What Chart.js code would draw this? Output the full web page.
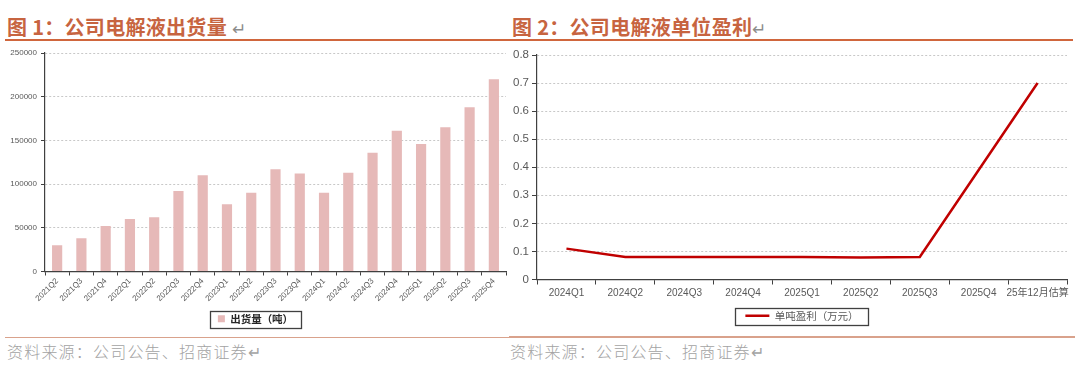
<!DOCTYPE html>
<html>
<head>
<meta charset="utf-8">
<script src="https://cdn.jsdelivr.net/npm/chart.js@4/dist/chart.umd.min.js"></script>
<style>
  body { margin: 0; width: 1080px; height: 377px; background: #fff; position: relative; overflow: hidden;
         font-family: 'Noto Sans CJK SC', sans-serif; }
  .title { position: absolute; top: 15px; font-size: 20px; line-height: 24px; font-weight: bold; color: #c76440; white-space: nowrap; letter-spacing: 0.3px; }
  .title .ret { color: #8c8c8c; font-weight: normal; font-size: 17px; }
  .src { position: absolute; top: 340px; font-size: 16px; line-height: 22px; color: #a3a3a3; letter-spacing: 1.2px; white-space: nowrap; font-weight: 300; }
  .rule { position: absolute; }
  .box { position: absolute; }
</style>
</head>
<body>
<div class="title" style="left:7px">图 1：公司电解液出货量 <span class="ret">↵</span></div>
<div class="title" style="left:512px">图 2：公司电解液单位盈利<span class="ret">↵</span></div>
<div class="rule" style="left:5px; top:39px; width:1068px; height:2px; background:#d0663d"></div>
<div class="rule" style="left:5px; top:337px; width:505px; height:1px; background:#d9a28c"></div>
<div class="rule" style="left:509px; top:336px; width:566px; height:2px; background:#d9a28c"></div>
<div class="src" style="left:7px">资料来源：公司公告、招商证券↵</div>
<div class="src" style="left:510px">资料来源：公司公告、招商证券↵</div>

<div class="box" style="left:0px; top:44px; width:512px; height:292px"><canvas id="volChart"></canvas></div>
<div class="box" style="left:505px; top:44px; width:575px; height:292px"><canvas id="profitChart"></canvas></div>

<script>
// 图1 出货量
const volCats = ['2021Q2', '2021Q3', '2021Q4', '2022Q1', '2022Q2', '2022Q3', '2022Q4', '2023Q1', '2023Q2', '2023Q3',
                 '2023Q4', '2024Q1', '2024Q2', '2024Q3', '2024Q4', '2025Q1', '2025Q2', '2025Q3', '2025Q4'];
const volValues = [30000, 38000, 52000, 60000, 62000, 92000, 110000, 77000, 90000, 117000,
                   112000, 90000, 113000, 136000, 161000, 146000, 165000, 188000, 220000];
const volTicks = [0, 50000, 100000, 150000, 200000, 250000];
const volLabel = '出货量（吨）';

// 图2 单位盈利
const profitCats = ['2024Q1', '2024Q2', '2024Q3', '2024Q4', '2025Q1', '2025Q2', '2025Q3', '2025Q4', '25年12月估算'];
const profitValues = [0.11, 0.08, 0.08, 0.08, 0.08, 0.078, 0.08, 0.39, 0.70];
const profitTicks = [0, 0.1, 0.2, 0.3, 0.4, 0.5, 0.6, 0.7, 0.8];
const profitLabel = '单吨盈利（万元）';

const numFont = "'Liberation Sans', Arial, 'Noto Sans CJK SC', sans-serif";
const axisDark = '#404040';
const tickGray = '#595959';

// legend frame drawn around the single legend item
const legendFrame = {
    id: 'legendFrame',
    afterDraw(chart, args, opts) {
        const hb = chart.legend && chart.legend.legendHitBoxes && chart.legend.legendHitBoxes[0];
        if (!hb) return;
        const ctx = chart.ctx;
        ctx.save();
        ctx.strokeStyle = axisDark;
        ctx.lineWidth = 1.3;
        ctx.strokeRect(Math.round(hb.left - opts.padX) + 0.5, Math.round(hb.top - opts.padY) + 0.5,
                       Math.round(hb.width + opts.padX * 2), Math.round(hb.height + opts.padY * 2));
        ctx.restore();
    }
};

new Chart(document.getElementById('volChart'), {
    type: 'bar',
    data: {
        labels: volCats,
        datasets: [{
            label: volLabel,
            data: volValues,
            backgroundColor: '#e6b9b8',
            barPercentage: 0.42,
            categoryPercentage: 1
        }]
    },
    options: {
        responsive: true,
        maintainAspectRatio: false,
        animation: false,
        layout: { padding: { left: 5, right: 6, top: 9, bottom: 2 } },
        plugins: {
            legend: {
                position: 'bottom',
                labels: {
                    boxWidth: 7, boxHeight: 7, padding: 6,
                    color: '#262626',
                    font: { family: "'Noto Sans CJK SC', sans-serif", size: 10.5, weight: 'bold' }
                }
            },
            tooltip: { enabled: false },
            legendFrame: { padX: 8, padY: 3 }
        },
        scales: {
            x: {
                offset: true,
                grid: { display: true, offset: true, drawOnChartArea: false, drawTicks: true, tickLength: 4, tickColor: axisDark },
                border: { display: true, color: axisDark, width: 1.2 },
                ticks: { color: tickGray, font: { family: numFont, size: 8 }, minRotation: 45, maxRotation: 45, padding: 1, autoSkip: false },
                afterFit(scale) { scale.height = 36; }
            },
            y: {
                min: 0, max: 250000,
                afterBuildTicks(scale) { scale.ticks = volTicks.map(v => ({ value: v })); },
                grid: { color: '#c8c8c8', lineWidth: 1, tickLength: 4, tickColor: axisDark },
                border: { display: true, color: axisDark, width: 1.2, dash: [2, 2] },
                ticks: { color: tickGray, font: { family: numFont, size: 8 }, padding: 4, callback: v => String(v) },
                afterFit(scale) { scale.width = 40; }
            }
        }
    },
    plugins: [legendFrame]
});

new Chart(document.getElementById('profitChart'), {
    type: 'line',
    data: {
        labels: profitCats,
        datasets: [{
            label: profitLabel,
            data: profitValues,
            borderColor: '#c00000',
            backgroundColor: '#c00000',
            borderWidth: 2.5,
            pointRadius: 0,
            pointStyle: 'line',
            tension: 0
        }]
    },
    options: {
        responsive: true,
        maintainAspectRatio: false,
        animation: false,
        layout: { padding: { left: 0, right: 13, top: 11, bottom: 5 } },
        plugins: {
            legend: {
                position: 'bottom',
                fullSize: false,
                labels: {
                    usePointStyle: true, pointStyleWidth: 24, boxHeight: 10, padding: 6,
                    color: '#595959',
                    font: { family: "'Noto Sans CJK SC', sans-serif", size: 10.5 }
                }
            },
            tooltip: { enabled: false },
            legendFrame: { padX: 10, padY: 3 }
        },
        scales: {
            x: {
                offset: true,
                grid: { display: true, offset: true, drawOnChartArea: false, drawTicks: true, tickLength: 5, tickColor: axisDark },
                border: { display: true, color: axisDark, width: 1.2 },
                ticks: { color: tickGray, font: { family: numFont, size: 10 }, maxRotation: 0, minRotation: 0, padding: 3, autoSkip: false },
                afterFit(scale) { scale.height = 25; }
            },
            y: {
                min: 0, max: 0.8,
                afterBuildTicks(scale) { scale.ticks = profitTicks.map(v => ({ value: v })); },
                grid: { color: '#c8c8c8', lineWidth: 1, tickLength: 5, tickColor: axisDark },
                border: { display: true, color: axisDark, width: 1.2, dash: [2, 2] },
                ticks: { color: tickGray, font: { family: numFont, size: 11.5 }, padding: 3,
                         callback: v => (v === 0 ? '0' : v.toFixed(1)) },
                afterFit(scale) { scale.width = 32; }
            }
        }
    },
    plugins: [legendFrame]
});
</script>
</body>
</html>
